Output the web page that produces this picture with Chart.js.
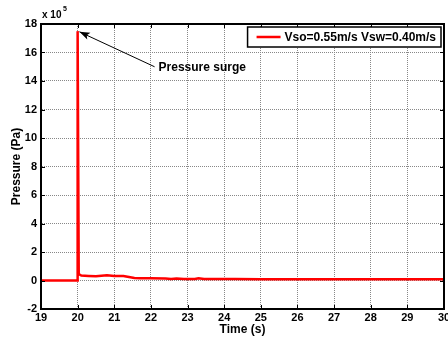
<!DOCTYPE html>
<html>
<head>
<meta charset="utf-8">
<script src="https://cdn.jsdelivr.net/npm/chart.js@4"></script>
<style>
  html, body { margin: 0; padding: 0; background: #fff; }
  #wrap { width: 448px; height: 337px; position: relative; }
</style>
</head>
<body>
<div id="wrap"><canvas id="chart" width="448" height="337"></canvas></div>
<script>
// time (s) and pressure (x 10^5 Pa)
const time = [19, 19.99, 20.0, 20.03, 20.1, 20.3, 20.5, 20.8, 21.0, 21.25, 21.4, 21.55, 21.7, 22.0, 22.4, 22.55, 22.7, 22.9, 23.2, 23.3, 23.45, 23.8, 24.3, 25, 26, 27, 28, 29, 30];
const pressure = [0, 0, 17.5, 0.45, 0.35, 0.32, 0.3, 0.36, 0.32, 0.32, 0.25, 0.18, 0.15, 0.15, 0.14, 0.1, 0.14, 0.1, 0.1, 0.16, 0.1, 0.1, 0.1, 0.08, 0.08, 0.08, 0.08, 0.08, 0.08];
const seriesLabel = 'Vso=0.55m/s Vsw=0.40m/s';
const xTicks = [19, 20, 21, 22, 23, 24, 25, 26, 27, 28, 29, 30];
const yTicks = [-2, 0, 2, 4, 6, 8, 10, 12, 14, 16, 18];
// annotation: arrow from tail to tip (data coords)
const arrowTail = [22.1, 15.0];
const arrowTip = [20.05, 17.45];
const noteText = 'Pressure surge';

const FONT = 'Liberation Sans, Arial, sans-serif';

const framePlugin = {
    id: 'frame',
    afterDraw(chart) {
        const { ctx, chartArea: a, scales } = chart;
        ctx.save();
        // inward ticks
        ctx.strokeStyle = '#000';
        ctx.lineWidth = 1;
        xTicks.forEach(v => {
            const x = Math.round(scales.x.getPixelForValue(v)) + 0.5;
            ctx.beginPath();
            ctx.moveTo(x, a.bottom); ctx.lineTo(x, a.bottom - 4);
            ctx.moveTo(x, a.top); ctx.lineTo(x, a.top + 4);
            ctx.stroke();
        });
        yTicks.forEach(v => {
            const y = Math.round(scales.y.getPixelForValue(v)) + 0.5;
            ctx.beginPath();
            ctx.moveTo(a.left, y); ctx.lineTo(a.left + 4, y);
            ctx.moveTo(a.right, y); ctx.lineTo(a.right - 4, y);
            ctx.stroke();
        });
        // frame
        ctx.lineWidth = 2;
        ctx.strokeRect(a.left, a.top, a.right - a.left, a.bottom - a.top);

        // legend box (top right, inside the plot)
        const ds = chart.data.datasets[0];
        ctx.font = 'bold 12px ' + FONT;
        const tw = ctx.measureText(ds.label).width;
        const bw = tw + 42, bh = 20;
        const bx = a.right - 3 - bw, by = a.top + 3;
        ctx.fillStyle = '#fff';
        ctx.fillRect(bx, by, bw, bh);
        ctx.lineWidth = 1.5;
        ctx.strokeStyle = '#000';
        ctx.strokeRect(bx, by, bw, bh);
        ctx.strokeStyle = ds.borderColor;
        ctx.lineWidth = 2.5;
        ctx.beginPath();
        ctx.moveTo(bx + 9, by + bh / 2); ctx.lineTo(bx + 33, by + bh / 2);
        ctx.stroke();
        ctx.fillStyle = '#000';
        ctx.textBaseline = 'middle';
        ctx.textAlign = 'left';
        ctx.fillText(ds.label, bx + 37, by + bh / 2 + 1);

        // exponent label
        ctx.font = 'bold 10px ' + FONT;
        ctx.textBaseline = 'alphabetic';
        ctx.fillText('x 10', a.left + 1, a.top - 6);
        ctx.font = 'bold 7px ' + FONT;
        ctx.fillText('5', a.left + 22, a.top - 13);

        // arrow annotation
        const x1 = scales.x.getPixelForValue(arrowTail[0]);
        const y1 = scales.y.getPixelForValue(arrowTail[1]);
        const x2 = scales.x.getPixelForValue(arrowTip[0]);
        const y2 = scales.y.getPixelForValue(arrowTip[1]);
        const ang = Math.atan2(y2 - y1, x2 - x1);
        ctx.strokeStyle = '#000';
        ctx.lineWidth = 1;
        ctx.beginPath();
        ctx.moveTo(x1, y1); ctx.lineTo(x2, y2);
        ctx.stroke();
        ctx.beginPath();
        ctx.moveTo(x2, y2);
        ctx.lineTo(x2 - 11 * Math.cos(ang - 0.35), y2 - 11 * Math.sin(ang - 0.35));
        ctx.lineTo(x2 - 8 * Math.cos(ang), y2 - 8 * Math.sin(ang));
        ctx.lineTo(x2 - 11 * Math.cos(ang + 0.35), y2 - 11 * Math.sin(ang + 0.35));
        ctx.closePath();
        ctx.fill();
        ctx.font = 'bold 12px ' + FONT;
        ctx.textBaseline = 'middle';
        ctx.fillText(noteText, x1 + 4, y1 + 1);
        ctx.restore();
    }
};

new Chart(document.getElementById('chart'), {
    type: 'line',
    data: {
        datasets: [{
            label: seriesLabel,
            data: time.map((t, i) => ({ x: t, y: pressure[i] })),
            borderColor: '#ff0000',
            backgroundColor: '#ff0000',
            borderWidth: 2.5,
            pointRadius: 0,
            tension: 0,
            fill: false
        }]
    },
    options: {
        responsive: false,
        animation: false,
        layout: { padding: { top: 24, right: 4, left: 9, bottom: 0 } },
        plugins: {
            legend: { display: false },
            tooltip: { enabled: false }
        },
        scales: {
            x: {
                type: 'linear',
                min: 19, max: 30,
                afterBuildTicks: s => { s.ticks = xTicks.map(v => ({ value: v })); },
                afterFit: s => { s.height = 28; s.paddingLeft = 0; s.paddingRight = 0; },
                grid: { color: '#888', drawTicks: false, lineWidth: 1 },
                border: { display: true, color: '#000', dash: [1, 1] },
                ticks: { color: '#000', padding: 2, maxRotation: 0, font: { family: FONT, size: 11, weight: 'bold' } },
                title: { display: true, text: 'Time (s)', color: '#000', padding: 0, font: { family: FONT, size: 12, weight: 'bold' } }
            },
            y: {
                min: -2, max: 18,
                afterBuildTicks: s => { s.ticks = yTicks.map(v => ({ value: v })); },
                afterFit: s => { s.width = 32; s.paddingTop = 0; s.paddingBottom = 0; },
                grid: { color: '#888', drawTicks: false, lineWidth: 1 },
                border: { display: true, color: '#000', dash: [1, 1] },
                ticks: { color: '#000', padding: 4, font: { family: FONT, size: 11, weight: 'bold' } },
                title: { display: true, text: 'Pressure (Pa)', color: '#000', padding: 0, font: { family: FONT, size: 12, weight: 'bold' } }
            }
        }
    },
    plugins: [framePlugin]
});
</script>
</body>
</html>
